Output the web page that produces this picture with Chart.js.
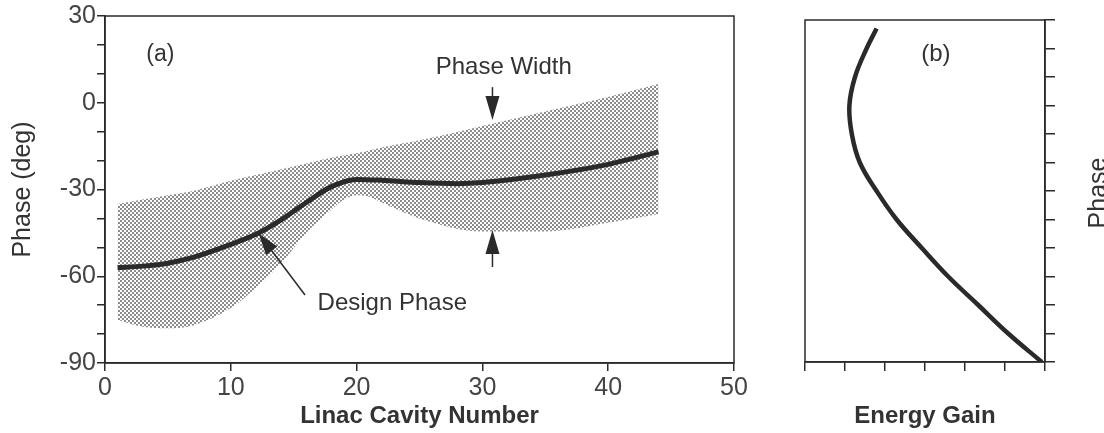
<!DOCTYPE html>
<html lang="en">
<head>
<meta charset="UTF-8">
<title>Linac cavity phase</title>
<script src="https://cdn.jsdelivr.net/npm/chart.js"></script>
<style>
  html, body { margin: 0; padding: 0; background: #fff; }
  body { width: 1104px; height: 433px; position: relative; overflow: hidden; }
  .panel { position: absolute; top: 0; height: 433px; }
  #boxA { left: 0; width: 780px; }
  #boxB { left: 780px; width: 324px; }
</style>
</head>
<body>
<div class="panel" id="boxA"><canvas id="chartA"></canvas></div>
<div class="panel" id="boxB"><canvas id="chartB"></canvas></div>
<script>
// panel (a): phase along the linac
const designCavity = [1, 3, 5, 7, 10, 12, 14, 16, 18, 20, 22, 25, 28, 30, 35, 40, 44];
const designPhase  = [-57, -56.5, -55.5, -53.5, -49, -45.5, -40.5, -34.5, -29, -26.5, -26.8, -27.6, -28, -27.6, -25, -21.3, -17];
const bandCavity   = [1, 3, 5, 7, 10, 12, 14, 16, 18, 19, 20, 21, 22, 25, 30, 35, 40, 44];
const widthUpper   = [-35, -33.5, -32, -30.5, -27, -25, -23, -21, -19, -18.2, -17.5, -16.5, -15.5, -13, -8, -3, 2, 6.5];
const widthLower   = [-75, -77.5, -78, -77, -71, -64, -55.5, -45, -37, -33.5, -32, -32.5, -34.5, -40, -44.5, -44.5, -41.5, -38.5];
const phaseLabels  = [30, 0, -30, -60, -90];

// panel (b): energy gain against phase
const gainPhase  = [27, 20, 10, 0, -10, -20, -30, -40, -50, -60, -70, -80, -90];
const energyGain = [1.79, 1.54, 1.25, 1.11, 1.17, 1.37, 1.79, 2.29, 2.92, 3.58, 4.33, 5.08, 5.92];

Chart.defaults.font.family = '"Liberation Sans", Arial, sans-serif';
Chart.defaults.color = '#333';

const INK = '#2a2a2a';

function stipple() {
    const c = document.createElement('canvas');
    c.width = 4; c.height = 4;
    const g = c.getContext('2d');
    g.fillStyle = '#fff';
    g.fillRect(0, 0, 4, 4);
    g.fillStyle = '#8c8c8c';
    g.fillRect(0, 0, 2, 2);
    g.fillRect(2, 2, 2, 2);
    return g.createPattern(c, 'repeat');
}

function drawArrow(ctx, x1, y1, x2, y2, len, half) {
    const a = Math.atan2(y2 - y1, x2 - x1);
    const bx = x2 - len * Math.cos(a), by = y2 - len * Math.sin(a);
    ctx.beginPath();
    ctx.moveTo(x1, y1);
    ctx.lineTo(bx, by);
    ctx.stroke();
    ctx.beginPath();
    ctx.moveTo(x2, y2);
    ctx.lineTo(bx + half * Math.sin(a), by - half * Math.cos(a));
    ctx.lineTo(bx - half * Math.sin(a), by + half * Math.cos(a));
    ctx.closePath();
    ctx.fill();
}

// frame round the plot area, plus text and arrows placed in data units
const notesPlugin = {
    id: 'notes',
    afterDatasetsDraw(chart, args, opts) {
        const { ctx, chartArea: ca, scales } = chart;
        const px = v => scales.x.getPixelForValue(v);
        const py = v => scales.y.getPixelForValue(v);
        ctx.save();
        ctx.strokeStyle = INK;
        ctx.fillStyle = INK;
        ctx.lineWidth = 1.5;
        ctx.strokeRect(ca.left, ca.top, ca.width, ca.height);
        (opts.arrows || []).forEach(a => {
            drawArrow(ctx, px(a[0]), py(a[1]), px(a[2]), py(a[3]), a[4], a[5]);
        });
        ctx.fillStyle = '#333';
        ctx.textBaseline = 'middle';
        (opts.labels || []).forEach(l => {
            ctx.font = l.font;
            ctx.textAlign = l.align || 'center';
            ctx.fillText(l.text, px(l.x), py(l.y));
        });
        if (opts.sideTitle) {
            ctx.font = '25px "Liberation Sans", Arial, sans-serif';
            ctx.textAlign = 'center';
            ctx.translate(ca.right + 54, (ca.top + ca.bottom) / 2 + 2);
            ctx.rotate(-Math.PI / 2);
            ctx.fillText(opts.sideTitle, 0, 0);
        }
        ctx.restore();
    }
};

const axisGrid = { drawOnChartArea: false, drawTicks: true, tickLength: 8, color: INK, lineWidth: 1.5 };
const axisBorder = { display: true, color: INK, width: 1.5 };

new Chart(document.getElementById('chartA'), {
    type: 'line',
    data: {
        datasets: [
            {
                label: 'Design Phase',
                data: designCavity.map((c, i) => ({ x: c, y: designPhase[i] })),
                borderColor: INK,
                borderWidth: 5,
                pointRadius: 0,
                cubicInterpolationMode: 'monotone',
                fill: false
            },
            {
                label: 'lower',
                data: bandCavity.map((c, i) => ({ x: c, y: widthLower[i] })),
                borderWidth: 0,
                pointRadius: 0,
                cubicInterpolationMode: 'monotone',
                fill: false
            },
            {
                label: 'Phase Width',
                data: bandCavity.map((c, i) => ({ x: c, y: widthUpper[i] })),
                borderWidth: 0,
                pointRadius: 0,
                cubicInterpolationMode: 'monotone',
                backgroundColor: stipple(),
                fill: '-1'
            }
        ]
    },
    options: {
        responsive: true,
        maintainAspectRatio: false,
        animation: false,
        layout: { padding: { top: 16, right: 46, left: 0, bottom: 0 } },
        plugins: {
            legend: { display: false },
            tooltip: { enabled: false },
            notes: {
                labels: [
                    { text: '(a)', x: 4.4, y: 16.8, font: '23px "Liberation Sans", Arial, sans-serif' },
                    { text: 'Phase Width', x: 31.7, y: 12.4, font: '24px "Liberation Sans", Arial, sans-serif' },
                    { text: 'Design Phase', x: 16.9, y: -69.3, align: 'left', font: '24px "Liberation Sans", Arial, sans-serif' }
                ],
                arrows: [
                    [30.8, 5.4, 30.8, -6, 24, 7],
                    [30.8, -56.8, 30.8, -44, 24, 7],
                    [15.9, -66.5, 12.2, -45.1, 22, 7]
                ]
            }
        },
        scales: {
            x: {
                type: 'linear',
                min: 0,
                max: 50,
                ticks: { stepSize: 10, autoSkip: false, font: { size: 25 }, color: '#444', padding: 2 },
                grid: axisGrid,
                border: axisBorder,
                title: {
                    display: true,
                    text: 'Linac Cavity Number',
                    font: { size: 24, weight: 'bold' },
                    color: '#333',
                    padding: { top: 0, bottom: 2 }
                },
                afterFit: s => { s.height = 70; }
            },
            y: {
                min: -90,
                max: 30,
                ticks: {
                    stepSize: 10,
                    autoSkip: false,
                    font: { size: 25 },
                    color: '#444',
                    padding: 1,
                    callback: v => phaseLabels.includes(v) ? String(v) : ''
                },
                grid: axisGrid,
                border: axisBorder,
                title: {
                    display: true,
                    text: 'Phase (deg)',
                    font: { size: 25 },
                    color: '#333',
                    padding: { top: 8, bottom: 0 }
                },
                afterFit: s => { s.width = 105; }
            }
        }
    },
    plugins: [notesPlugin]
});

new Chart(document.getElementById('chartB'), {
    type: 'line',
    data: {
        datasets: [{
            label: 'Energy Gain',
            data: gainPhase.map((p, i) => ({ x: energyGain[i], y: p })),
            borderColor: INK,
            borderWidth: 4.5,
            pointRadius: 0,
            tension: 0.4,
            fill: false
        }]
    },
    options: {
        responsive: true,
        maintainAspectRatio: false,
        animation: false,
        layout: { padding: { top: 20, right: 0, left: 25, bottom: 0 } },
        plugins: {
            legend: { display: false },
            tooltip: { enabled: false },
            notes: {
                labels: [
                    { text: '(b)', x: 3.27, y: 18, font: '24px "Liberation Sans", Arial, sans-serif' }
                ],
                sideTitle: 'Phase'
            }
        },
        scales: {
            x: {
                type: 'linear',
                min: 0,
                max: 6,
                ticks: { stepSize: 1, autoSkip: false, callback: () => '' },
                grid: Object.assign({}, axisGrid, { tickLength: 9 }),
                border: axisBorder,
                title: {
                    display: true,
                    text: 'Energy Gain',
                    font: { size: 24, weight: 'bold' },
                    color: '#333',
                    padding: { top: 0, bottom: 2 }
                },
                afterFit: s => { s.height = 71; }
            },
            y: {
                position: 'right',
                min: -90,
                max: 30,
                ticks: { stepSize: 10, autoSkip: false, callback: () => '' },
                grid: Object.assign({}, axisGrid, { tickLength: 10 }),
                border: axisBorder,
                afterFit: s => { s.width = 59; }
            }
        }
    },
    plugins: [notesPlugin]
});
</script>
</body>
</html>
